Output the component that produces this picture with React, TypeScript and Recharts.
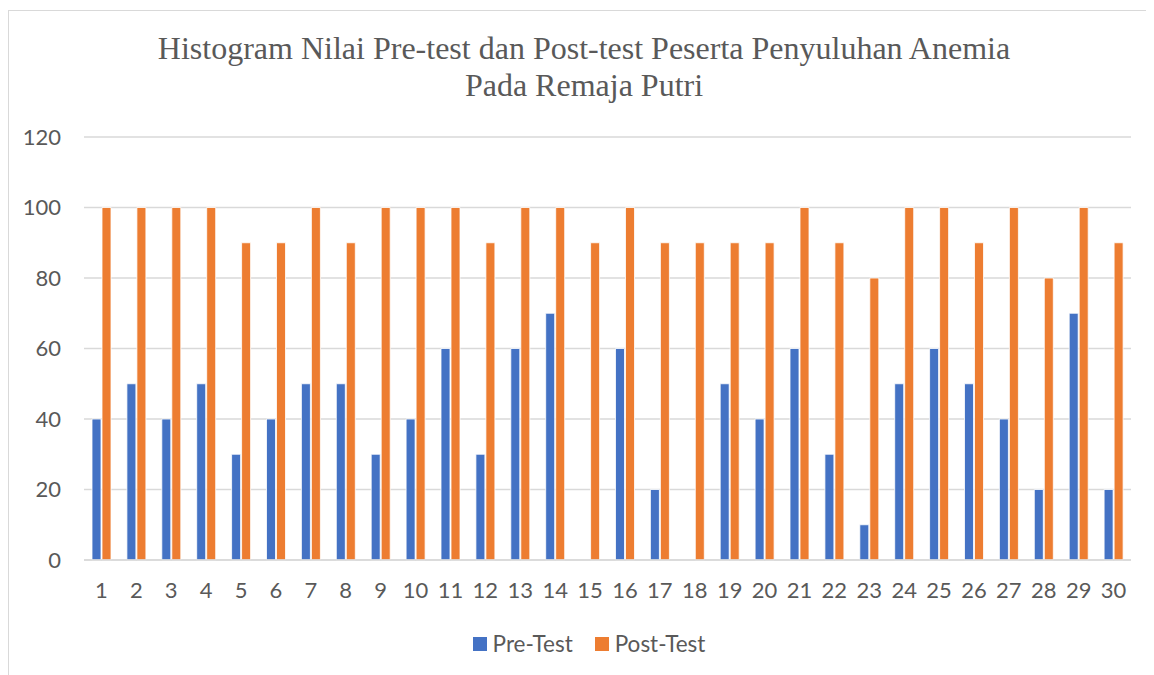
import React from "react";
import { BarChart, Bar, XAxis, YAxis, CartesianGrid } from "recharts";

const categories = [
  "1", "2", "3", "4", "5", "6", "7", "8", "9", "10",
  "11", "12", "13", "14", "15", "16", "17", "18", "19", "20",
  "21", "22", "23", "24", "25", "26", "27", "28", "29", "30",
];
const preTest = [40, 50, 40, 50, 30, 40, 50, 50, 30, 40, 60, 30, 60, 70, 0, 60, 20, 0, 50, 40, 60, 30, 10, 50, 60, 50, 40, 20, 70, 20];
const postTest = [100, 100, 100, 100, 90, 90, 100, 90, 100, 100, 100, 90, 100, 100, 90, 100, 90, 90, 90, 90, 100, 90, 80, 100, 100, 90, 100, 80, 100, 90];
const yTicks = [0, 20, 40, 60, 80, 100, 120];
const titleLines = ["Histogram Nilai Pre-test dan Post-test Peserta Penyuluhan Anemia", "Pada Remaja Putri"];
const seriesNames = ["Pre-Test", "Post-Test"];
const colors = ["#4472C4", "#ED7D31"];

const data = categories.map((c, i) => ({ name: c, pre: preTest[i], post: postTest[i] }));

const tickStyle = { fill: "#595959", fontSize: 22, fontFamily: "Lato, 'Noto Sans', sans-serif" };

export default function App() {
  return (
    <div style={{ position: "relative", width: 1146, height: 667, overflow: "hidden", background: "#fff" }}>
      <div
        style={{
          position: "absolute",
          left: 0,
          top: 2,
          width: 1200,
          height: 700,
          borderTop: "1px solid #D9D9D9",
          borderLeft: "1.5px solid #D9D9D9",
        }}
      />
      <div
        style={{
          position: "absolute",
          left: 0,
          width: 1152,
          top: 22,
          textAlign: "center",
          fontFamily: "'Liberation Serif', 'Times New Roman', serif",
          fontSize: 32,
          lineHeight: "37px",
          color: "#595959",
        }}
      >
        {titleLines.map((t) => (
          <div key={t}>{t}</div>
        ))}
      </div>
      <BarChart
        width={1146}
        height={667}
        data={data}
        margin={{ top: 129, right: 23, left: 0, bottom: 75 }}
        barGap={1}
        barSize={9}
        style={{ position: "absolute", left: 0, top: 0 }}
      >
        <CartesianGrid vertical={false} stroke="#D9D9D9" strokeWidth={1.5} />
        <XAxis
          dataKey="name"
          height={40}
          tickSize={0}
          tickMargin={22}
          axisLine={{ stroke: "#D9D9D9", strokeWidth: 1.5 }}
          tick={tickStyle}
          interval={0}
        />
        <YAxis
          domain={[0, 120]}
          ticks={yTicks}
          width={76}
          tickSize={0}
          tickMargin={23}
          axisLine={false}
          tick={tickStyle}
        />
        <Bar dataKey="pre" name={seriesNames[0]} fill={colors[0]} stroke="#ffffff" strokeWidth={0.8} isAnimationActive={false} />
        <Bar dataKey="post" name={seriesNames[1]} fill={colors[1]} stroke="#ffffff" strokeWidth={0.8} isAnimationActive={false} />
      </BarChart>
      <div
        style={{
          position: "absolute",
          top: 622,
          left: 0,
          width: 1146,
          display: "flex",
          justifyContent: "center",
          paddingLeft: 16,
          boxSizing: "border-box",
          fontFamily: "Lato, 'Noto Sans', sans-serif",
          fontSize: 22.5,
          color: "#595959",
        }}
      >
        {seriesNames.map((n, i) => (
          <div key={n} style={{ display: "flex", alignItems: "center", marginRight: i === 0 ? 22 : 0 }}>
            <span style={{ display: "inline-block", width: 14, height: 14, background: colors[i], marginRight: 6 }} />
            <span>{n}</span>
          </div>
        ))}
      </div>
    </div>
  );
}
